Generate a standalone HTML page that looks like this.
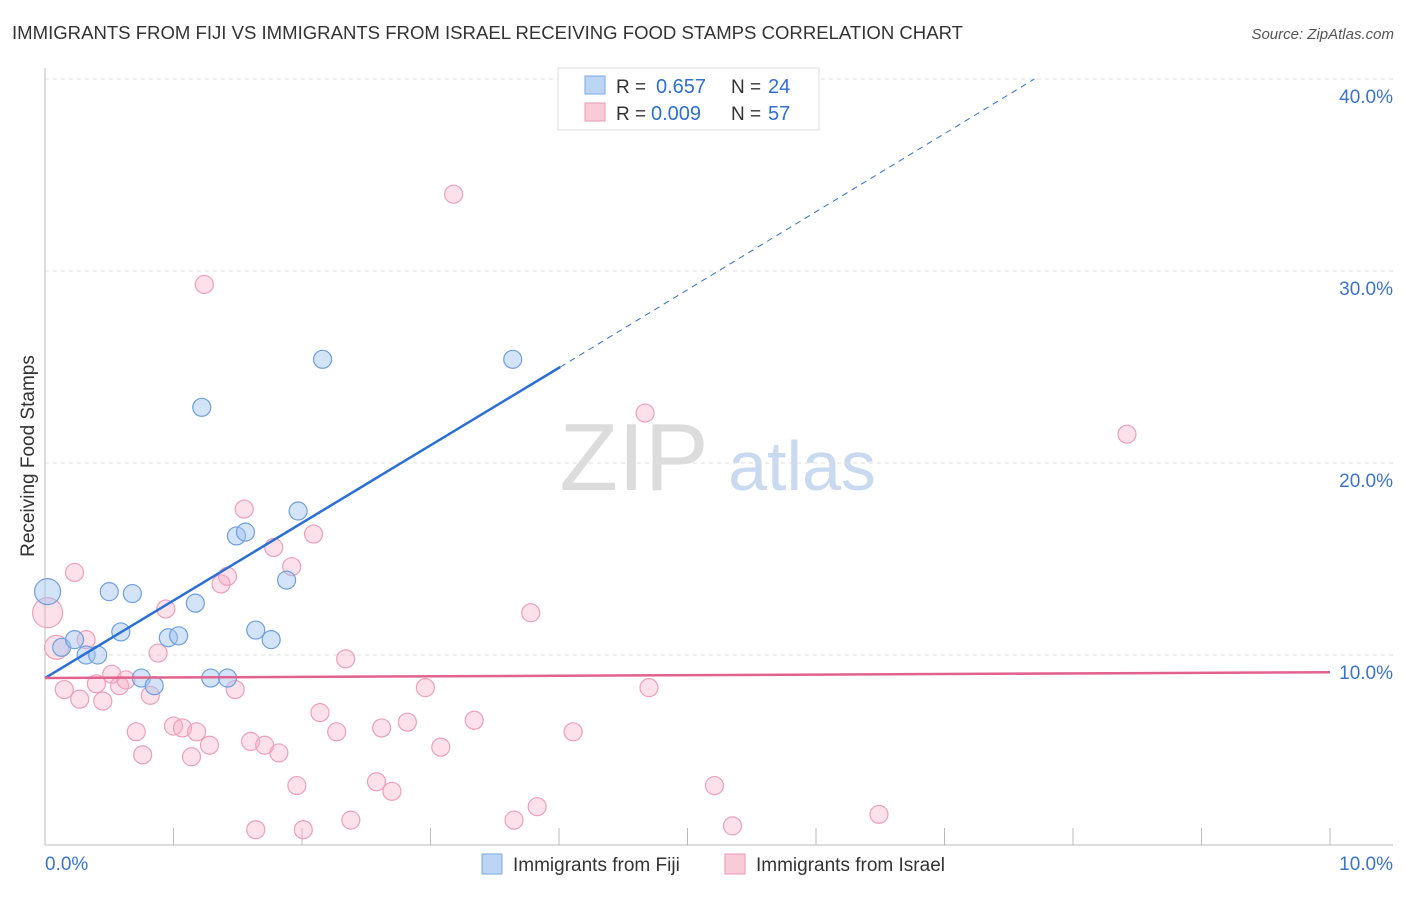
<!DOCTYPE html>
<html><head><meta charset="utf-8"><style>
body{margin:0;background:#fff;font-family:"Liberation Sans",sans-serif;}
svg text{font-family:"Liberation Sans",sans-serif;}
</style></head><body>
<svg width="1406" height="892" viewBox="0 0 1406 892" xmlns="http://www.w3.org/2000/svg">
<text x="12" y="39" font-size="18" fill="#333" textLength="951" lengthAdjust="spacingAndGlyphs">IMMIGRANTS FROM FIJI VS IMMIGRANTS FROM ISRAEL RECEIVING FOOD STAMPS CORRELATION CHART</text>
<text x="1394" y="39" font-size="15" fill="#555" text-anchor="end" font-style="italic">Source: ZipAtlas.com</text>
<text x="34" y="456" font-size="19" fill="#333" text-anchor="middle" transform="rotate(-90 34 456)">Receiving Food Stamps</text>
<g>
<text x="634" y="490" font-size="96" fill="#dcdcdc" text-anchor="middle" font-family="Liberation Serif">ZIP</text>
<text x="802" y="490" font-size="70" fill="#c9daf0" text-anchor="middle">atlas</text>
</g>
<g id="grid"></g>
<g id="axes"></g>
<g id="marks"></g>
<g>
<rect x="558" y="68" width="261" height="62" fill="#fff" stroke="#ddd"/>
<rect x="585" y="76" width="20" height="18" fill="#bcd5f5" stroke="#7aa8e0"/>
<text x="616" y="93" font-size="19" fill="#333">R =</text>
<text x="656" y="93" font-size="20" fill="#2f6fd6">0.657</text>
<text x="731" y="93" font-size="19" fill="#333">N =</text>
<text x="768" y="93" font-size="20" fill="#2f6fd6">24</text>
<rect x="585" y="103" width="20" height="18" fill="#f9cbd8" stroke="#e89ab2"/>
<text x="616" y="120" font-size="19" fill="#333">R =</text>
<text x="651" y="120" font-size="20" fill="#2f6fd6">0.009</text>
<text x="731" y="120" font-size="19" fill="#333">N =</text>
<text x="768" y="120" font-size="20" fill="#2f6fd6">57</text>
</g>
<g>
<rect x="482" y="854" width="20" height="20" fill="#bcd5f5" stroke="#7aa8e0"/>
<text x="513" y="871" font-size="19" fill="#333">Immigrants from Fiji</text>
<rect x="725" y="854" width="20" height="20" fill="#f9cbd8" stroke="#e89ab2"/>
<text x="756" y="871" font-size="19" fill="#333">Immigrants from Israel</text>
</g>
</svg>
<script>
const xTicks=[0,1,2,3,4,5,6,7,8,9,10];
const yTicks=[10,20,30,40];
const yTickLabels=["10.0%","20.0%","30.0%","40.0%"];
const xEndLabels=["0.0%","10.0%"];
const fijiX=[0.02,0.13,0.23,0.32,0.41,0.50,0.59,0.68,0.75,0.85,0.96,1.04,1.17,1.22,1.29,1.42,1.49,1.56,1.64,1.76,1.88,1.97,2.16,3.64];
const fijiY=[13.3,10.4,10.8,10.0,10.0,13.3,11.2,13.2,8.8,8.4,10.9,11.0,12.7,22.9,8.8,8.8,16.2,16.4,11.3,10.8,13.9,17.5,25.4,25.4];
const fijiR=[13,9,9,9,9,9,9,9,9,9,9,9,9,9,9,9,9,9,9,9,9,9,9,9];
const isrX=[0.02,0.09,0.15,0.23,0.27,0.32,0.40,0.45,0.52,0.58,0.63,0.71,0.76,0.82,0.88,0.94,1.00,1.07,1.14,1.18,1.24,1.28,1.37,1.42,1.48,1.55,1.60,1.64,1.71,1.78,1.82,1.92,1.96,2.01,2.09,2.14,2.27,2.34,2.38,2.58,2.62,2.70,2.82,2.96,3.08,3.18,3.34,3.65,3.78,3.83,4.11,4.67,4.70,5.21,5.35,6.49,8.42];
const isrY=[12.2,10.4,8.2,14.3,7.7,10.8,8.5,7.6,9.0,8.4,8.7,6.0,4.8,7.9,10.1,12.4,6.3,6.2,4.7,6.0,29.3,5.3,13.7,14.1,8.2,17.6,5.5,0.9,5.3,15.6,4.9,14.6,3.2,0.9,16.3,7.0,6.0,9.8,1.4,3.4,6.2,2.9,6.5,8.3,5.2,34.0,6.6,1.4,12.2,2.1,6.0,22.6,8.3,3.2,1.1,1.7,21.5];
const isrR=[15,12,9,9,9,9,9,9,9,9,9,9,9,9,9,9,9,9,9,9,9,9,9,9,9,9,9,9,9,9,9,9,9,9,9,9,9,9,9,9,9,9,9,9,9,9,9,9,9,9,9,9,9,9,9,9,9];
const fijiTrend=[8.8,4.01,25.0,7.7,40.0];
const isrTrend=[8.8,9.1];
const NS="http://www.w3.org/2000/svg";
const X0=45,X1=1330,Y0=847,PPY=19.2;
function sx(v){return X0+(X1-X0)*v/10;}
function sy(v){return Y0-v*PPY;}
function mk(tag,attrs,parent){const e=document.createElementNS(NS,tag);for(const k in attrs)e.setAttribute(k,attrs[k]);document.getElementById(parent).appendChild(e);return e;}
yTicks.forEach((t,i)=>{
 const g=mk('line',{x1:X0,x2:1393,y1:sy(t),y2:sy(t),stroke:'#ddd','stroke-dasharray':'4,4'},'grid');
 
 
 const l=mk('text',{x:1393,y:sy(t)+24,'font-size':19,fill:'#3a74d0','text-anchor':'end'},'axes');
 l.textContent=yTickLabels[i];
 
 
});
const ax=mk('line',{x1:X0,x2:1393,y1:845,y2:845,stroke:'#bbb'},'axes');


const ay=mk('line',{x1:X0,x2:X0,y1:68,y2:845,stroke:'#bbb'},'axes');


xTicks.slice(1).forEach(t=>{
 const tk=mk('line',{x1:sx(t),x2:sx(t),y1:828,y2:845,stroke:'#bbb'},'axes');
 
 
});
const xl0=mk('text',{x:45,y:870,'font-size':19,fill:'#3a74d0'},'axes');
xl0.textContent=xEndLabels[0];


const xl1=mk('text',{x:1393,y:870,'font-size':19,fill:'#3a74d0','text-anchor':'end'},'axes');
xl1.textContent=xEndLabels[1];


isrX.forEach((x,i)=>{
 const c=mk('circle',{cx:sx(x),cy:sy(isrY[i]),r:isrR[i],fill:'rgba(246,170,195,0.35)',stroke:'#eea0b8','stroke-width':1.2},'marks');
 
 
});
fijiX.forEach((x,i)=>{
 const c=mk('circle',{cx:sx(x),cy:sy(fijiY[i]),r:fijiR[i],fill:'rgba(160,195,240,0.45)',stroke:'#6f9fe0','stroke-width':1.2},'marks');
 
 
});
const ft=mk('line',{x1:sx(0),y1:sy(fijiTrend[0]),x2:sx(fijiTrend[1]),y2:sy(fijiTrend[2]),stroke:'#2a6fd6','stroke-width':2.5},'marks');


const fd=mk('line',{x1:sx(fijiTrend[1]),y1:sy(fijiTrend[2]),x2:sx(fijiTrend[3]),y2:sy(fijiTrend[4]),stroke:'#2a6fd6','stroke-width':1,'stroke-dasharray':'6,5'},'marks');


const it=mk('line',{x1:sx(0),y1:sy(isrTrend[0]),x2:sx(10),y2:sy(isrTrend[1]),stroke:'#e2628e','stroke-width':2.5},'marks');


</script>
</body></html>
